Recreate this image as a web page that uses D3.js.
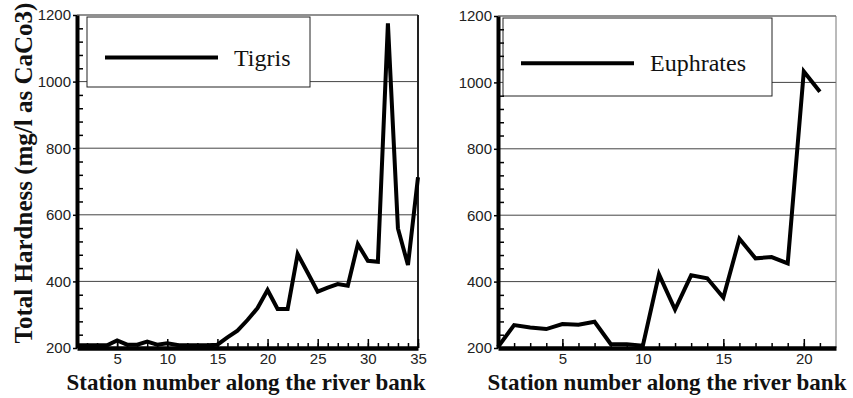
<!doctype html>
<html>
<head>
<meta charset="utf-8"/>
<title>Total Hardness - Tigris and Euphrates</title>
<script src="https://d3js.org/d3.v7.min.js"></script>
<style>
 body { margin:0; background:#fff; }
 .tick text { font-family: "Liberation Sans", Arial, sans-serif; font-size:15px; fill:#222; }
 text.serif { font-family: "Times New Roman", "Liberation Serif", "DejaVu Serif", serif; }
</style>
</head>
<body>
<script>
// station numbers and hardness values
var tigrisStations = [1,2,3,4,5,6,7,8,9,10,11,12,13,14,15,16,17,18,19,20,21,22,23,24,25,26,27,28,29,30,31,32,33,34,35];
var tigrisHardness = [208,208,208,208,223,210,210,219,210,214,209,208,208,208,210,232,252,284,320,374,317,317,482,426,369,381,392,387,512,462,459,1175,559,449,713];

var euphratesStations = [1,2,3,4,5,6,7,8,9,10,11,12,13,14,15,16,17,18,19,20,21];
var euphratesHardness = [203,269,262,257,272,270,279,212,211,207,422,316,419,410,352,529,470,474,455,1033,972];

var yTicks = [200,400,600,800,1000,1200];
var yMinor = [240,280,320,360,440,480,520,560,640,680,720,760,840,880,920,960,1040,1080,1120,1160];
var tigrisTicks = [5,10,15,20,25,30,35];
var euphratesTicks = [5,10,15,20];

var yTitle = "Total Hardness (mg/l as CaCo3)";
var xTitle = "Station number along the river bank";

var svg = d3.select("body").append("svg")
  .attr("width", 853)
  .attr("height", 398);

function Panel(p)
{
  var x = d3.scaleLinear().domain(p.xDomain).range([p.left, p.right]);
  var y = d3.scaleLinear().domain([200, 1200]).range([p.bottom, p.top]);
  var g = svg.append("g");

  // gridlines
  g.selectAll("line.grid").data(yTicks.slice(1, 5)).enter().append("line")
    .attr("x1", p.left).attr("x2", p.right)
    .attr("y1", function(d){ return y(d); }).attr("y2", function(d){ return y(d); })
    .attr("stroke", "#444").attr("stroke-width", 1);

  // frame top and right
  g.append("line").attr("x1", p.left).attr("x2", p.right).attr("y1", p.top).attr("y2", p.top)
    .attr("stroke", "#222").attr("stroke-width", 1.2);
  g.append("line").attr("x1", p.right).attr("x2", p.right).attr("y1", p.top).attr("y2", p.bottom)
    .attr("stroke", p.rightColor).attr("stroke-width", p.rightWidth);

  // legend
  g.append("rect").attr("x", p.legX).attr("y", p.legY).attr("width", p.legW).attr("height", p.legH)
    .attr("fill", "#fff").attr("stroke", "#222").attr("stroke-width", 1);
  g.append("line").attr("x1", p.legX + 18).attr("x2", p.legX + 131)
    .attr("y1", p.legY + p.legH * 0.58).attr("y2", p.legY + p.legH * 0.58)
    .attr("stroke", "#000").attr("stroke-width", 4);
  g.append("text").attr("class", "serif").attr("x", p.legX + 147).attr("y", p.legY + p.legH * 0.58 + 8)
    .attr("font-size", 24).attr("font-weight", "normal").attr("fill", "#111").text(p.name);

  // data line
  var pts = p.xs.map(function(s, i){ return [s, p.ys[i]]; });
  g.append("path").datum(pts)
    .attr("fill", "none").attr("stroke", "#000").attr("stroke-width", 4)
    .attr("d", d3.line().x(function(d){ return x(d[0]); }).y(function(d){ return y(d[1]); }));

  // y axis
  var ya = g.append("g").attr("transform", "translate(" + p.left + ",0)")
    .call(d3.axisLeft(y).tickValues(yTicks).tickSize(4).tickSizeOuter(0).tickPadding(2).tickFormat(d3.format("d")));
  ya.select(".domain").attr("stroke-width", 4);
  ya.selectAll(".tick line").attr("stroke-width", 1.5);
  var ym = g.append("g").attr("transform", "translate(" + p.left + ",0)")
    .call(d3.axisRight(y).tickValues(yMinor).tickSize(6).tickSizeOuter(0).tickFormat(""));
  ym.select(".domain").remove();
  ym.selectAll(".tick line").attr("stroke-width", 1.5);

  // x axis
  var xm = g.append("g").attr("transform", "translate(0," + p.bottom + ")")
    .call(d3.axisBottom(x).tickValues(p.xs).tickSize(-5).tickSizeOuter(0).tickFormat(""));
  xm.select(".domain").remove();
  xm.selectAll(".tick line").attr("stroke-width", 1.5);
  var xa = g.append("g").attr("transform", "translate(0," + p.bottom + ")")
    .call(d3.axisBottom(x).tickValues(p.xTicks).tickSize(-9).tickSizeOuter(0).tickPadding(5));
  xa.select(".domain").attr("stroke-width", 4.5);
  xa.selectAll(".tick line").attr("stroke-width", 1.5);

  // x title
  g.append("text").attr("class", "serif").attr("x", p.titleX).attr("y", 390).attr("text-anchor", "middle")
    .attr("font-weight", "bold").attr("font-size", 23).attr("fill", "#111").text(xTitle);
}

Panel({name: "Tigris", xs: tigrisStations, ys: tigrisHardness, xDomain: [1, 35], xTicks: tigrisTicks,
  left: 77, right: 418, top: 15, bottom: 348, rightColor: "#222", rightWidth: 2,
  legX: 87, legY: 17, legW: 223, legH: 70, titleX: 246});

Panel({name: "Euphrates", xs: euphratesStations, ys: euphratesHardness, xDomain: [1, 22], xTicks: euphratesTicks,
  left: 498, right: 836, top: 16, bottom: 348, rightColor: "#777", rightWidth: 1,
  legX: 503, legY: 18, legW: 269, legH: 78, titleX: 667});

// y title
svg.append("text").attr("class", "serif").attr("transform", "translate(32,173) rotate(-90)").attr("text-anchor", "middle")
  .attr("font-weight", "bold").attr("font-size", 25).attr("fill", "#111").text(yTitle);
</script>
</body>
</html>
